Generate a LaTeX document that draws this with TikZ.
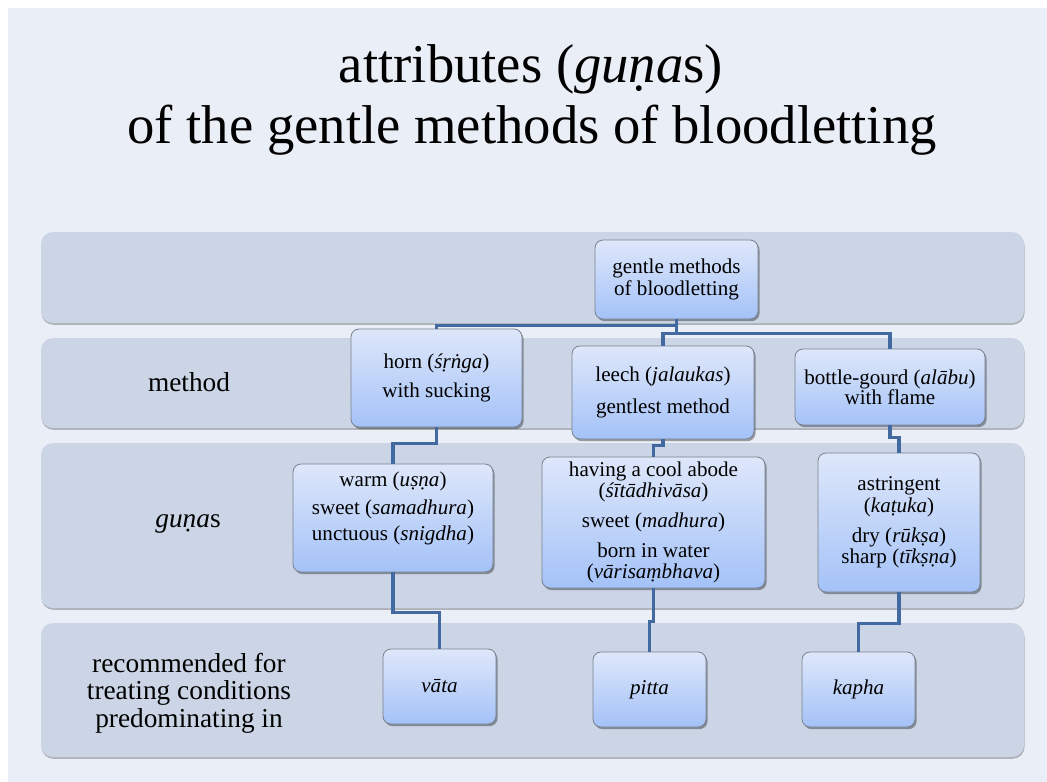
\documentclass[tikz,border=0pt]{standalone}
\usepackage{fontspec}
\setmainfont{Liberation Serif}
\usetikzlibrary{shadows}
\definecolor{bgcol}{RGB}{234,238,246}
\definecolor{bandcol}{RGB}{203,213,230}
\definecolor{boxtop}{RGB}{222,231,250}
\definecolor{boxbot}{RGB}{164,194,248}
\definecolor{boxline}{RGB}{120,128,142}
\definecolor{conncol}{RGB}{66,106,160}
\tikzset{
  band/.style={fill=bandcol, rounded corners=9pt,
    drop shadow={shadow xshift=0.4pt, shadow yshift=-1.4pt, opacity=0.25, fill=black}},
  box/.style={draw=boxline, line width=0.6pt, rounded corners=6pt,
    top color=boxtop, bottom color=boxbot, align=center, inner sep=2pt,
    font=\fontsize{15.8}{16}\selectfont,
    drop shadow={shadow xshift=1.2pt, shadow yshift=-1.6pt, opacity=0.35, fill=black}},
  rowlabel/.style={align=center, font=\fontsize{20.5}{20.6}\selectfont},
  titletext/.style={font=\fontsize{41}{46}\selectfont, anchor=base},
  conn/.style={draw=conncol, line width=2.4pt}
}
\newcommand{\px}{0.75pt}
\begin{document}
\begin{tikzpicture}[x=0.75pt, y=-0.75pt]
\useasboundingbox (0,0) rectangle (1047,782);
\fill[white] (0,0) rectangle (1047,782);
\fill[bgcol] (8,8) rectangle (1047,782);
% bands
\fill[band] (41,232) rectangle (1024,323);
\fill[band] (41,338) rectangle (1024,428);
\fill[band] (41,443) rectangle (1024,608);
\fill[band] (41,623) rectangle (1024,757);
% title
\node[titletext] (title1) at (531,82) {attributes (\textit{guṇa}s)};
\node[titletext] (title2) at (532,143) {of the gentle methods of bloodletting};
% row labels
\node[rowlabel] (lmethod) at (189,382) {method};
\node[rowlabel] (lgunas) at (188,524) {\textit{guṇa}s};
\node[rowlabel] (lrec) at (189,693) {recommended for\\treating conditions\\predominating in};
% boxes
\node[box, minimum width={163*\px}, minimum height={79*\px}] (root) at (676.5,279.5)
  {gentle methods\\[0.5pt]of bloodletting};
\node[box, minimum width={171*\px}, minimum height={98*\px}] (horn) at (436.5,378)
  {horn (\textit{śṛṅga})\\[5.5pt]with sucking};
\node[box, minimum width={182*\px}, minimum height={93*\px}] (leech) at (663,392.5)
  {leech (\textit{jalaukas})\\[8pt]gentlest method};
\node[box, minimum width={190*\px}, minimum height={76*\px}] (bottle) at (890,387)
  {bottle-gourd (\textit{alābu})\\[-1pt]with flame};
\node[box, minimum width={200*\px}, minimum height={108*\px}] (warm) at (393,518)
  {warm (\textit{uṣṇa})\\[5pt]sweet (\textit{samadhura})\\[3.5pt]unctuous (\textit{snigdha})\\[2pt]\mbox{}};
\node[box, minimum width={223*\px}, minimum height={131*\px}] (cool) at (653.5,522.5)
  {having a cool abode\\(\textit{śītādhivāsa})\\[6.5pt]sweet (\textit{madhura})\\[6.5pt]born in water\\(\textit{vārisaṃbhava})};
\node[box, minimum width={162*\px}, minimum height={139*\px}] (astr) at (899,522.5)
  {astringent\\(\textit{kaṭuka})\\[6.5pt]dry (\textit{rūkṣa})\\sharp (\textit{tīkṣṇa})};
\node[box, minimum width={113*\px}, minimum height={75*\px}] (vata) at (439.5,686.5) {\textit{vāta}};
\node[box, minimum width={113*\px}, minimum height={75*\px}] (pitta) at (649.5,689.5) {\textit{pitta}};
\node[box, minimum width={113*\px}, minimum height={75*\px}] (kapha) at (858.5,689.5) {\textit{kapha}};
% connectors
\draw[conn] (root.south) -- ++(0,6) -| (horn.north);
\draw[conn] (root.south) -- ++(0,14) -| (leech.north);
\draw[conn] (root.south) -- ++(0,14) -| (bottle.north);
\draw[conn] (horn.south) -- ++(0,16) -| (warm.north);
\draw[conn] (leech.south) -- ++(0,6) -| (cool.north);
\draw[conn] (bottle.south) -- ++(0,12) -| (astr.north);
\draw[conn] (warm.south) -- ++(0,40) -| (vata.north);
\draw[conn] (cool.south) -- ++(0,33) -| (pitta.north);
\draw[conn] (astr.south) -- ++(0,31) -| (kapha.north);
\end{tikzpicture}
\end{document}
